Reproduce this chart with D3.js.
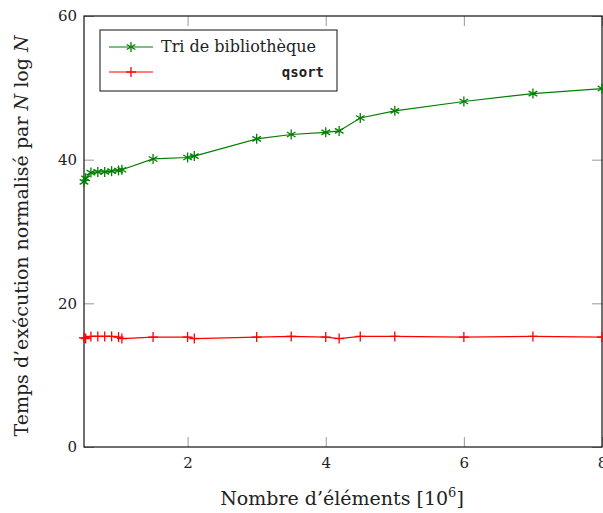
<!DOCTYPE html>
<html>
<head>
<meta charset="utf-8">
<script src="https://cdn.jsdelivr.net/npm/d3@7"></script>
<style>
  html, body { margin: 0; padding: 0; background: #fff; }
  svg { display: block; }
  .serif { font-family: "DejaVu Serif", "Liberation Serif", serif; fill: #222; }
</style>
</head>
<body>
<svg id="chart" width="603" height="513"></svg>
<script>
const sizes = [0.5, 0.524288, 0.6, 0.7, 0.8, 0.9, 1.0, 1.048576, 1.5, 2.0, 2.097152, 3, 3.5, 4, 4.194304, 4.5, 5, 6, 7, 8];
const libSort = [36.9, 37.4, 38.2, 38.3, 38.3, 38.4, 38.5, 38.6, 40.1, 40.3, 40.5, 42.9, 43.5, 43.8, 44.0, 45.8, 46.8, 48.1, 49.2, 49.9];
const qsortTimes = [15.2, 15.1, 15.4, 15.4, 15.4, 15.4, 15.3, 15.1, 15.3, 15.3, 15.1, 15.3, 15.4, 15.3, 15.1, 15.4, 15.4, 15.3, 15.4, 15.3];
const xTicks = [2, 4, 6, 8];
const yTicks = [0, 20, 40, 60];

const GREEN = "#007f00";
const RED = "#ff0000";

const svg = d3.select("#chart");
const margin = { top: 16, right: 1, bottom: 66, left: 84 };
const W = 603, H = 513;

const x = d3.scaleLinear().domain([0.5, 8]).range([margin.left, W - margin.right]);
const y = d3.scaleLinear().domain([0, 60]).range([H - margin.bottom, margin.top]);

const tickLen = 10;
function styleAxis(g) {
  g.select(".domain").remove();
  g.selectAll(".tick line").attr("stroke", "#999").attr("stroke-width", 1);
  g.selectAll(".tick text")
    .attr("class", "serif")
    .style("font-size", "15px")
    .attr("fill", "#222");
}

// inward ticks on all four sides
svg.append("g")
  .attr("transform", `translate(${margin.left},0)`)
  .call(d3.axisLeft(y).tickValues(yTicks).tickSize(-tickLen).tickPadding(7))
  .call(styleAxis);
svg.append("g")
  .attr("transform", `translate(${W - margin.right},0)`)
  .call(d3.axisRight(y).tickValues(yTicks).tickSize(-tickLen).tickFormat(""))
  .call(styleAxis);
svg.append("g")
  .attr("transform", `translate(0,${H - margin.bottom})`)
  .call(d3.axisBottom(x).tickValues(xTicks).tickSize(-tickLen).tickPadding(10))
  .call(styleAxis);
svg.append("g")
  .attr("transform", `translate(0,${margin.top})`)
  .call(d3.axisTop(x).tickValues(xTicks).tickSize(-tickLen).tickFormat(""))
  .call(styleAxis);

svg.append("rect")
  .attr("x", margin.left)
  .attr("y", margin.top)
  .attr("width", W - margin.right - margin.left)
  .attr("height", H - margin.bottom - margin.top)
  .attr("fill", "none")
  .attr("stroke", "#111")
  .attr("stroke-width", 1.2);

const series = [
  { name: "lib", values: libSort, color: GREEN, mark: "asterisk" },
  { name: "qsort", values: qsortTimes, color: RED, mark: "plus" }
];

const line = d3.line()
  .x((d, i) => x(sizes[i]))
  .y(d => y(d));

function drawMark(g, type, color) {
  const r = 5;
  if (type === "plus") {
    g.append("line").attr("x1", -r).attr("x2", r).attr("y1", 0).attr("y2", 0);
    g.append("line").attr("x1", 0).attr("x2", 0).attr("y1", -r).attr("y2", r);
  } else {
    [90, 30, 150].forEach(a => {
      const t = a * Math.PI / 180;
      g.append("line")
        .attr("x1", -r * Math.cos(t)).attr("y1", -r * Math.sin(t))
        .attr("x2", r * Math.cos(t)).attr("y2", r * Math.sin(t));
    });
  }
  g.selectAll("line").attr("stroke", color).attr("stroke-width", 1.3);
}

series.forEach(s => {
  svg.append("path")
    .datum(s.values)
    .attr("fill", "none")
    .attr("stroke", s.color)
    .attr("stroke-width", 1.2)
    .attr("d", line);
  svg.append("g").selectAll("g")
    .data(s.values)
    .join("g")
    .attr("transform", (d, i) => `translate(${x(sizes[i])},${y(d)})`)
    .each(function() { drawMark(d3.select(this), s.mark, s.color); });
});

// legend
const lg = svg.append("g").attr("transform", "translate(100,30)");
lg.append("rect").attr("width", 237).attr("height", 61)
  .attr("fill", "#fff").attr("stroke", "#111").attr("stroke-width", 1);
[
  { label: "Tri de bibliothèque", color: GREEN, mark: "asterisk", cy: 17 },
  { label: "qsort", color: RED, mark: "plus", cy: 42 }
].forEach(e => {
  lg.append("line").attr("x1", 9).attr("x2", 53).attr("y1", e.cy).attr("y2", e.cy)
    .attr("stroke", e.color).attr("stroke-width", 1.2);
  drawMark(lg.append("g").attr("transform", `translate(31,${e.cy})`), e.mark, e.color);
  if (e.mark === "plus") {
    lg.append("text")
      .attr("x", 224).attr("y", e.cy + 5)
      .attr("text-anchor", "end")
      .style("font-family", "'DejaVu Sans Mono', 'Liberation Mono', monospace")
      .style("font-size", "14px")
      .style("font-weight", "bold")
      .attr("fill", "#222")
      .text(e.label);
  } else {
    lg.append("text")
      .attr("class", "serif")
      .attr("x", 61).attr("y", e.cy + 5)
      .style("font-size", "16px")
      .text(e.label);
  }
});

// axis titles
const xt = svg.append("text")
  .attr("class", "serif")
  .attr("x", 342).attr("y", 505)
  .attr("text-anchor", "middle")
  .style("font-size", "19px");
xt.append("tspan").text("Nombre d’éléments [10");
xt.append("tspan").attr("dy", -8).style("font-size", "13px").text("6");
xt.append("tspan").attr("dy", 8).text("]");

const yt = svg.append("text")
  .attr("class", "serif")
  .attr("transform", "translate(28,236) rotate(-90)")
  .attr("text-anchor", "middle")
  .style("font-size", "19px");
yt.append("tspan").text("Temps d’exécution normalisé par ");
yt.append("tspan").style("font-style", "italic").text("N");
yt.append("tspan").text(" log ");
yt.append("tspan").style("font-style", "italic").text("N");
</script>
</body>
</html>
